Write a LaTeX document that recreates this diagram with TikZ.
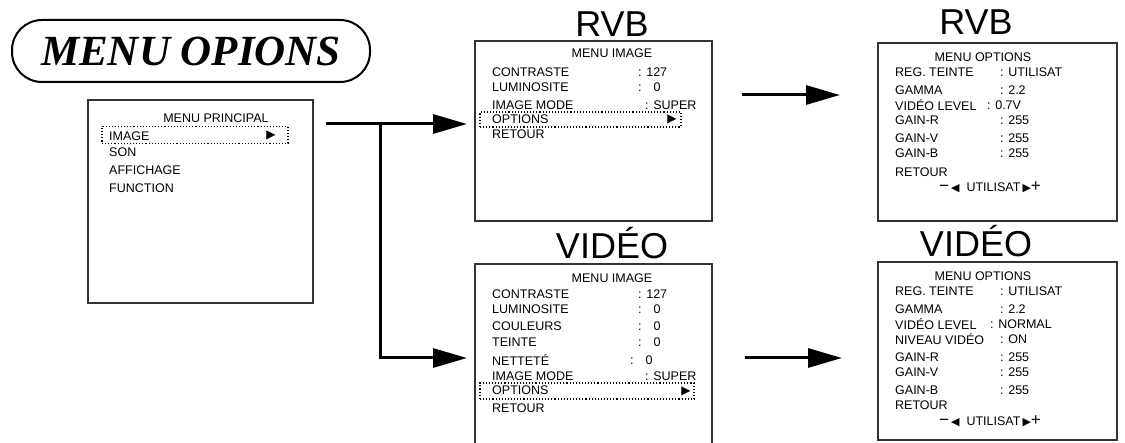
\documentclass[tikz,border=0pt]{standalone}
\usepackage{fontspec}
\setmainfont{Liberation Sans}
\newfontfamily\titlefont{Liberation Serif}
\newfontfamily\symfont{DejaVu Sans}
\usetikzlibrary{arrows.meta}
\newcommand\ctrl{{\fontsize{17}{17}\selectfont −}\,{\symfont\fontsize{11}{11}\selectfont ◀}\ \ UTILISAT\,{\symfont\fontsize{11}{11}\selectfont ▶}{\fontsize{17}{17}\selectfont +}}
\begin{document}
\begin{tikzpicture}[x=1pt,y=-1pt,
  box/.style={draw=black!80,line width=1.6pt},
  t/.style={anchor=west,inner sep=0,font=\fontsize{12.5}{12.5}\selectfont},
  c/.style={anchor=center,inner sep=0,font=\fontsize{12.5}{12.5}\selectfont},
  hd/.style={anchor=center,inner sep=0,font=\fontsize{36}{36}\selectfont},
  sel/.style={draw,dotted,line width=1.1pt},
  arr/.style={line width=3pt,-{Triangle[length=34pt,width=19pt]}}]
\useasboundingbox (0,0) rectangle (1125,443);
% title
\node[draw,line width=2pt,rounded corners=30pt,minimum width=358,minimum height=62,inner sep=0,
  font=\titlefont\bfseries\itshape\fontsize{43}{43}\selectfont] (title) at (191,51) {MENU OPIONS};
% main menu
\node[box,minimum width=225,minimum height=203,inner sep=0] (main) at (200.5,201.5) {};
\node[c] (mp) at (216,118) {MENU PRINCIPAL};
\node[t] (m1) at (109,136) {IMAGE};
\node[t] (m2) at (109,152) {SON};
\node[t] (m3) at (109,170) {AFFICHAGE};
\node[t] (m4) at (109,188) {FUNCTION};
\node[sel,minimum width=186,minimum height=17,inner sep=0] (sel1) at (195,135) {};
\node[inner sep=0,font=\symfont\fontsize{12}{12}\selectfont] (tri1) at (271,135) {▶};
% RVB image
\node[hd] (h1) at (612,24) {RVB};
\node[box,minimum width=237,minimum height=180,inner sep=0] (b1) at (593.5,131) {};
\node[c] (b1t) at (612,53) {MENU IMAGE};
\node[t] (b1a) at (492,72) {CONTRASTE};\node[t] (b1av) at (638,72) {: 127};
\node[t] (b1b) at (492,87) {LUMINOSITE};\node[t] (b1bv) at (638,87) {:\hspace{12pt}0};
\node[t] (b1c) at (492,105) {IMAGE MODE};\node[t] (b1cv) at (645,105) {: SUPER};
\node[t] (b1d) at (492,119) {OPTIONS};
\node[t] (b1e) at (492,134) {RETOUR};
\node[sel,minimum width=201,minimum height=15,inner sep=0] (sel2) at (580.5,119.5) {};
\node[inner sep=0,font=\symfont\fontsize{12}{12}\selectfont] (tri2) at (672,119) {▶};
% VIDEO image
\node[hd] (h2) at (612,243) {VIDÉO};
\node[box,minimum width=237,minimum height=182,inner sep=0] (b2) at (593.5,355) {};
\node[c] (b2t) at (612,278) {MENU IMAGE};
\node[t] (b2a) at (492,294) {CONTRASTE};\node[t] (b2av) at (638,294) {: 127};
\node[t] (b2b) at (492,309) {LUMINOSITE};\node[t] (b2bv) at (638,309) {:\hspace{12pt}0};
\node[t] (b2c) at (492,326) {COULEURS};\node[t] (b2cv) at (638,326) {:\hspace{12pt}0};
\node[t] (b2d) at (492,342) {TEINTE};\node[t] (b2dv) at (638,342) {:\hspace{12pt}0};
\node[t] (b2e) at (492,360) {NETTETÉ};\node[t] (b2ev) at (630,360) {:\hspace{12pt}0};
\node[t] (b2f) at (492,376) {IMAGE MODE};\node[t] (b2fv) at (645,376) {: SUPER};
\node[t] (b2g) at (492,390) {OPTIONS};
\node[t] (b2h) at (492,408) {RETOUR};
\node[sel,minimum width=214,minimum height=16,inner sep=0] (sel3) at (587,391) {};
\node[inner sep=0,font=\symfont\fontsize{12}{12}\selectfont] (tri3) at (686,391) {▶};
% RVB options
\node[hd] (h3) at (976,22) {RVB};
\node[box,minimum width=239,minimum height=178,inner sep=0] (b3) at (997.5,132) {};
\node[c] (b3t) at (983,57) {MENU OPTIONS};
\node[t] (b3a) at (895,72) {REG. TEINTE};\node[t] (b3av) at (1000,72) {: UTILISAT};
\node[t] (b3b) at (895,90) {GAMMA};\node[t] (b3bv) at (1000,90) {: 2.2};
\node[t] (b3c) at (895,105) {VIDÉO LEVEL};\node[t] (b3cv) at (987,105) {: 0.7V};
\node[t] (b3d) at (895,120) {GAIN-R};\node[t] (b3dv) at (1000,120) {: 255};
\node[t] (b3e) at (895,138) {GAIN-V};\node[t] (b3ev) at (1000,138) {: 255};
\node[t] (b3f) at (895,153) {GAIN-B};\node[t] (b3fv) at (1000,153) {: 255};
\node[t] (b3g) at (895,172) {RETOUR};
\node[c] (b3h) at (990,187) {\ctrl};
% VIDEO options
\node[hd] (h4) at (976,241) {VIDÉO};
\node[box,minimum width=239,minimum height=178,inner sep=0] (b4) at (997.5,351) {};
\node[c] (b4t) at (983,276) {MENU OPTIONS};
\node[t] (b4a) at (895,291) {REG. TEINTE};\node[t] (b4av) at (1000,291) {: UTILISAT};
\node[t] (b4b) at (895,309) {GAMMA};\node[t] (b4bv) at (1000,309) {: 2.2};
\node[t] (b4c) at (895,324) {VIDÉO LEVEL};\node[t] (b4cv) at (990,324) {: NORMAL};
\node[t] (b4d) at (895,339) {NIVEAU VIDÉO};\node[t] (b4dv) at (1000,339) {: ON};
\node[t] (b4e) at (895,357) {GAIN-R};\node[t] (b4ev) at (1000,357) {: 255};
\node[t] (b4f) at (895,372) {GAIN-V};\node[t] (b4fv) at (1000,372) {: 255};
\node[t] (b4g) at (895,390) {GAIN-B};\node[t] (b4gv) at (1000,390) {: 255};
\node[t] (b4h) at (895,405) {RETOUR};
\node[c] (b4i) at (990,421) {\ctrl};
% connectors
\coordinate (s) at (326,124);
\coordinate (j) at (380,124);
\coordinate (j2) at (380,358);
\coordinate (e1) at (467,124);
\coordinate (e2) at (467,358);
\draw[arr] (s) -- (e1);
\draw[line width=3pt] (j) -- (j2);
\draw[arr] ([xshift=-1.5pt]j2) -- (e2);
\coordinate (a1) at (742,95);\coordinate (a2) at (840,95);
\coordinate (a3) at (745,358);\coordinate (a4) at (842,358);
\draw[arr] (a1) -- (a2);
\draw[arr] (a3) -- (a4);
\end{tikzpicture}
\end{document}
